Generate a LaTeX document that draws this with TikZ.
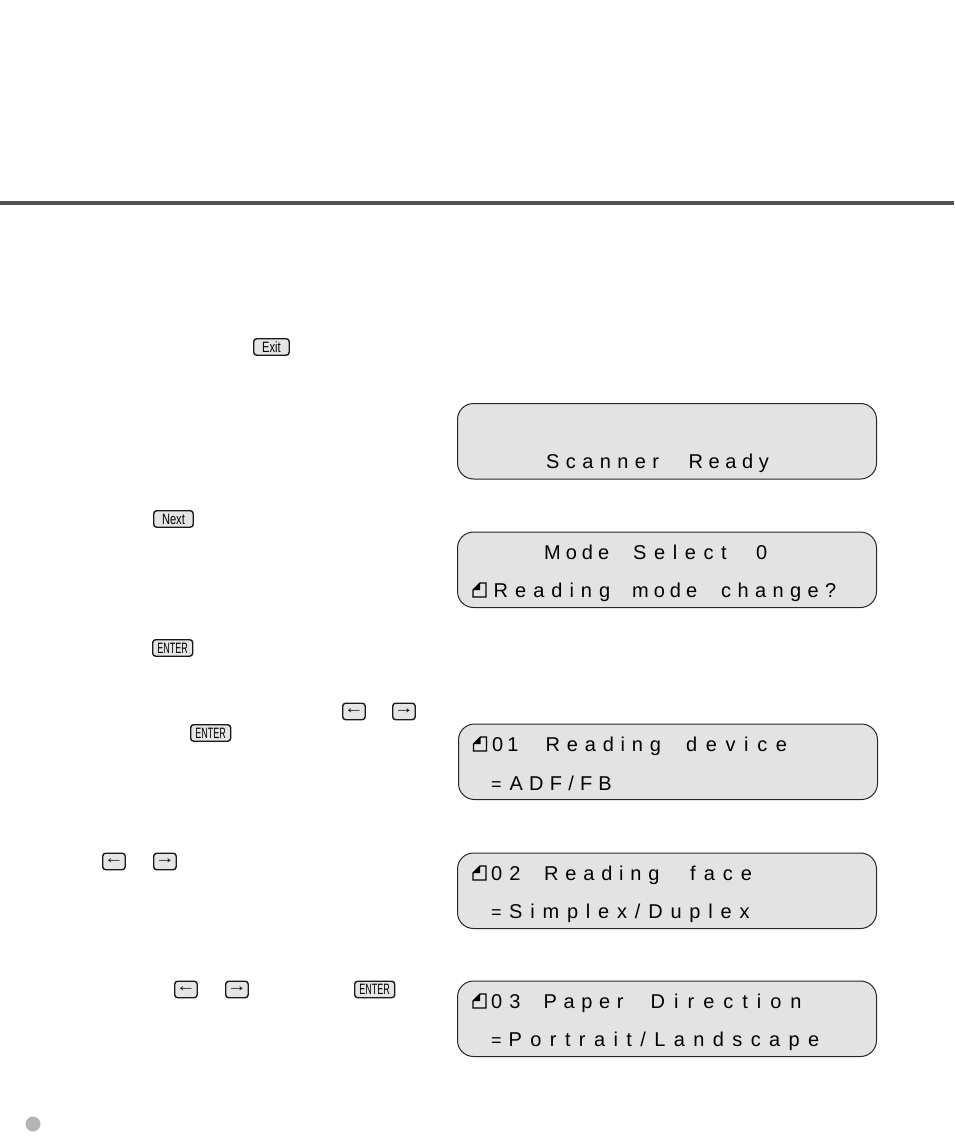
\documentclass[tikz,border=0pt]{standalone}
\usepackage{fontspec}
\setmainfont{Liberation Sans}
\newfontfamily\lcdfont{Liberation Sans}
\usetikzlibrary{positioning}
\tikzset{
  x=1pt,y=-1pt,
  lcdbox/.style={draw=black!85,line width=1pt,fill=black!11,rounded corners=16pt,minimum width=419pt,minimum height=75.5pt,inner sep=0pt,anchor=north west},
  lcdtext/.style={anchor=base west,inner sep=0pt,font=\fontsize{20}{24}\selectfont\lcdfont,text=black},
  eqtext/.style={anchor=base west,inner sep=0pt,font=\fontsize{18}{24}\selectfont\lcdfont,text=black},
  keybox/.style={draw=black!90,line width=1.4pt,fill=black!10,rounded corners=3pt,inner sep=0pt,minimum height=16.5pt,anchor=north west},
  wordkey/.style={keybox,font=\fontsize{15}{15}\selectfont},
  arrowkey/.style={keybox,minimum width=22.5pt,font=\fontsize{13}{13}\selectfont},
  pageicon/.style={draw=black,line width=1.4pt,line join=miter},
}
\newcommand{\narrowtxt}[2]{\scalebox{#1}[1]{#2}}
\newcommand{\arrowtxt}[1]{\scalebox{1.5}[1.25]{#1}}
\newcommand{\lcdw}[2]{\addfontfeature{LetterSpace=#1}#2}
\newcommand{\pageat}[2]{%
  \draw[pageicon] (#1+1,#2) -- (#1+1,#2-7) -- (#1+8,#2-14) -- (#1+14,#2-14) -- (#1+14,#2) -- cycle;
  \fill[black] (#1+1,#2-7) -- (#1+8,#2-14) -- (#1+8,#2-7) -- cycle;}
\begin{document}
\begin{tikzpicture}
\useasboundingbox (0,0) rectangle (954,1147);
\fill[black!68] (0,201) rectangle (954,205);
\fill[black!29] (33,1124) circle (7.5);

\node[wordkey,minimum width=35.5pt] (kexit) at (253,338) {\narrowtxt{.74}{Exit}};
\node[wordkey,minimum width=39.5pt] (knext) at (153,510) {\narrowtxt{.74}{Next}};
\node[wordkey,minimum width=40pt] (kent1) at (152,639) {\narrowtxt{.6}{ENTER}};
\node[arrowkey] (kl1) at (342,702.5) {\arrowtxt{←}};
\node[arrowkey] (kr1) at (392,702.5) {\arrowtxt{→}};
\node[wordkey,minimum width=40pt] (kent2) at (190,724) {\narrowtxt{.6}{ENTER}};
\node[arrowkey] (kl2) at (102,852.5) {\arrowtxt{←}};
\node[arrowkey] (kr2) at (153,852.5) {\arrowtxt{→}};
\node[arrowkey] (kl3) at (174,980.5) {\arrowtxt{←}};
\node[arrowkey] (kr3) at (225,980.5) {\arrowtxt{→}};
\node[wordkey,minimum width=40pt] (kent3) at (354,980.5) {\narrowtxt{.6}{ENTER}};

\node[lcdbox] (b1) at (457,403) {};
\node[lcdbox] (b2) at (457,531.5) {};
\node[lcdbox] (b3) at (458,723.5) {};
\node[lcdbox] (b4) at (457,852.5) {};
\node[lcdbox] (b5) at (457,980.5) {};

\node[lcdtext] (t1a) at (546,468) {\lcdw{32}{Scanner}};
\node[lcdtext] (t1b) at (688.5,468) {\lcdw{28}{Ready}};

\node[lcdtext] (t2a) at (544,559) {\lcdw{25}{Mode}};
\node[lcdtext] (t2b) at (633,559) {\lcdw{38}{Select}};
\node[lcdtext] (t2c) at (756,559) {0};
\pageat{472}{597}
\node[lcdtext] (t2d) at (493.5,597) {\lcdw{35}{Reading}};
\node[lcdtext] (t2e) at (632,597) {\lcdw{25}{mode}};
\node[lcdtext] (t2f) at (721,597) {\lcdw{32}{change?}};

\pageat{472.5}{751}
\node[lcdtext] (t3a) at (492,751) {\lcdw{20}{01}};
\node[lcdtext] (t3b) at (545.5,751) {\lcdw{34}{Reading}};
\node[lcdtext] (t3c) at (686,751) {\lcdw{43}{device}};
\node[eqtext] (t3d) at (491,790) {=};
\node[lcdtext] (t3e) at (509.5,790) {\lcdw{31}{ADF/FB}};

\pageat{472}{880}
\node[lcdtext] (t4a) at (491,880) {\lcdw{35}{02}};
\node[lcdtext] (t4b) at (544,880) {\lcdw{34}{Reading}};
\node[lcdtext] (t4c) at (690,880) {\lcdw{40}{face}};
\node[eqtext] (t4d) at (491,918.5) {=};
\node[lcdtext] (t4e) at (509,918.5) {\lcdw{39}{Simplex/Duplex}};

\pageat{472}{1008}
\node[lcdtext] (t5a) at (491,1008) {\lcdw{35}{03}};
\node[lcdtext] (t5b) at (543.5,1008) {\lcdw{33}{Paper}};
\node[lcdtext] (t5c) at (650.5,1008) {\lcdw{45}{Direction}};
\node[eqtext] (t5d) at (491,1046.5) {=};
\node[lcdtext] (t5e) at (508.5,1046.5) {\lcdw{42}{Portrait/Landscape}};
\end{tikzpicture}
\end{document}
